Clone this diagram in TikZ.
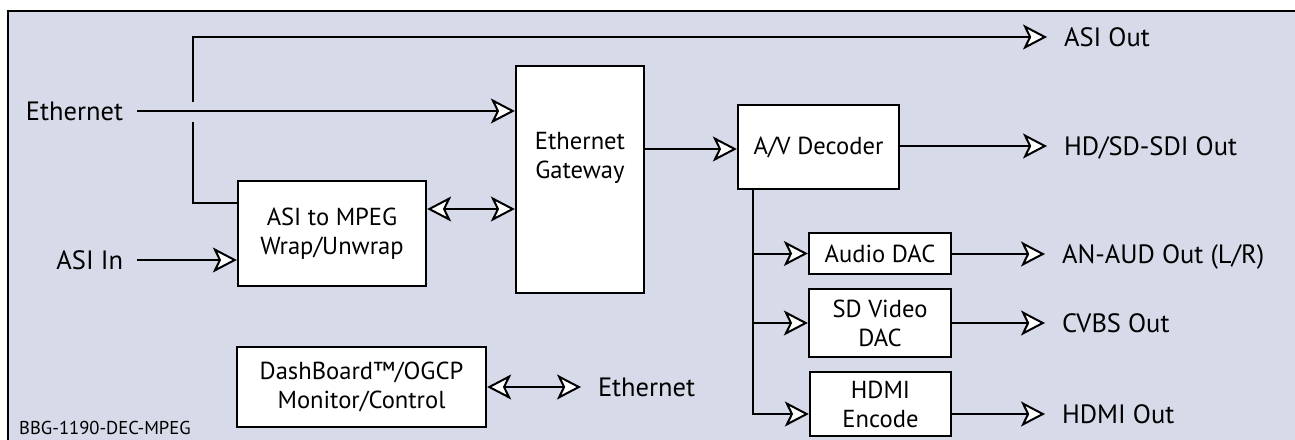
\documentclass[tikz,border=0pt]{standalone}
\usepackage{fontspec}
\setmainfont{PT Sans}
\usetikzlibrary{arrows.meta}
\definecolor{bgc}{RGB}{215,219,233}
\tikzset{
  ln/.style={line width=2pt, line join=miter},
  tipA/.tip={Stealth[length=24pt,width=25pt,inset=6pt,fill=white]},
  arr/.style={ln, -tipA},
  arr2/.style={ln, tipA-tipA},
  btxt/.style={font=\fontsize{24.6}{29}\selectfont},
  box/.style={draw, line width=2.3pt, fill=white, inner sep=0pt, align=center, btxt},
  ltxt/.style={inner sep=0pt, text height=24pt, text depth=5.5pt,
    font=\fontsize{26.5}{30}\selectfont},
  lblL/.style={ltxt, outer xsep=14pt, anchor=east},
  lblR/.style={ltxt, outer xsep=17pt, anchor=west},
}
\begin{document}
\begin{tikzpicture}[x=1pt,y=-1pt]
\useasboundingbox (0,0) rectangle (1295,439);
\fill[bgc] (8,11) rectangle (1310,450);
\draw[line width=2.5pt] (8,450) -- (8,11) -- (1310,11);

% boxes
\node[box, minimum width=128pt, minimum height=227pt] (gw) at (580,179.5) {};
\node[align=center, inner sep=0pt, btxt] (gwt) at (580,158) {Ethernet\\Gateway};
\node[box, minimum width=188pt, minimum height=105pt] (asi) at (332,233.5) {ASI to MPEG\\Wrap/Unwrap};
\node[box, minimum width=161pt, minimum height=84pt] (av) at (818.5,147) {A/V Decoder};
\node[box, minimum width=142pt, minimum height=41pt] (adac) at (880,253.5) {Audio DAC};
\node[box, minimum width=142pt, minimum height=68pt] (sdac) at (880,323) {SD Video\\DAC};
\node[box, minimum width=141pt, minimum height=64pt] (hdmi) at (880.5,404) {HDMI\\Encode};
\node[box, minimum width=249pt, minimum height=80pt] (dash) at (361.5,387) {DashBoard™/OGCP\\Monitor/Control};

% labels
\node[lblL] (eth) at (137,111) {Ethernet};
\node[lblL] (asiin) at (137,260) {ASI In};
\node[lblR] (asiout) at (1047,37) {ASI Out};
\node[lblR] (sdi) at (1047,146) {HD/SD-SDI Out};
\node[lblR] (aud) at (1045,254) {AN-AUD Out (L/R)};
\node[lblR] (cvbs) at (1045,323) {CVBS Out};
\node[lblR] (hdo) at (1045,414) {HDMI Out};
\node[lblR] (eth2) at (581,387) {Ethernet};
\node[anchor=west, inner sep=0pt, font=\fontsize{18.6}{20}\selectfont] (tag) at (19,428) {BBG-1190-DEC-MPEG};

% connectors
\coordinate (hopB) at (193,122);
\coordinate (hopT) at (193,102);
\draw[ln] ([yshift=-23pt]asi.north west) -| (hopB);
\draw[arr] (hopT) |- (asiout.west);
\draw[arr] (eth.east) -- (eth.east -| gw.west);
\draw[arr] (asiin.east) -- (asiin.east -| asi.west);
\draw[arr2] ([yshift=24.5pt]asi.east) -- ([yshift=24.5pt]asi.east -| gw.west);
\draw[arr] ([yshift=-2pt]av.west -| gw.east) -- ([yshift=-2pt]av.west);
\draw[arr] (sdi.west -| av.east) -- (sdi.west);
\coordinate (vt) at ([xshift=16pt]av.south west);
\draw[arr] (vt) |- (hdo.west -| hdmi.west);
\draw[arr] (vt |- adac.west) -- (adac.west);
\draw[arr] (vt |- sdac.west) -- (sdac.west);
\draw[arr] (aud.west -| adac.east) -- (aud.west);
\draw[arr] (cvbs.west -| sdac.east) -- (cvbs.west);
\draw[arr] (hdo.west -| hdmi.east) -- (hdo.west);
\draw[arr2] (dash.east) -- (eth2.west);
\end{tikzpicture}
\end{document}
